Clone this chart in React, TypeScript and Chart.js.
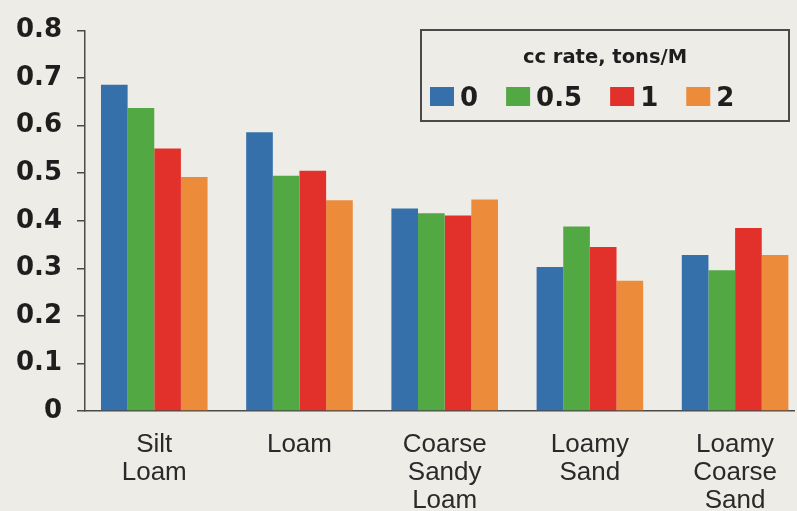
import React, { useEffect, useRef } from 'react';
import { Chart, registerables } from 'chart.js';

Chart.register(...registerables);

// ---- data ----
const categories: string[][] = [
  ['Silt', 'Loam'],
  ['Loam'],
  ['Coarse', 'Sandy', 'Loam'],
  ['Loamy', 'Sand'],
  ['Loamy', 'Coarse', 'Sand'],
];
const seriesNames = ['0', '0.5', '1', '2'];
const rate0 = [0.686, 0.586, 0.426, 0.303, 0.328];
const rate05 = [0.637, 0.495, 0.416, 0.388, 0.296];
const rate1 = [0.552, 0.505, 0.411, 0.345, 0.385];
const rate2 = [0.492, 0.443, 0.445, 0.274, 0.328];
const yTickLabels = ['0', '0.1', '0.2', '0.3', '0.4', '0.5', '0.6', '0.7', '0.8'];
const legendTitle = 'cc rate, tons/M';

const seriesValues = [rate0, rate05, rate1, rate2];
const colors = ['#3570ab', '#52a944', '#e2302a', '#ec8b3a'];
const BG = '#eeece7';

const legendBoxPlugin = {
  id: 'legendBox',
  afterDraw(chart: any) {
    const ctx = chart.ctx as CanvasRenderingContext2D;
    ctx.save();
    const bx = 421, by = 30, bw = 368, bh = 91;
    ctx.strokeStyle = '#4a4a4a';
    ctx.lineWidth = 2;
    ctx.strokeRect(bx, by, bw, bh);
    ctx.fillStyle = '#1e1e1e';
    ctx.font = 'bold 19.5px "DejaVu Sans"';
    ctx.textAlign = 'center';
    ctx.textBaseline = 'alphabetic';
    ctx.fillText(legendTitle, bx + bw / 2, 63);
    ctx.font = 'bold 26px "DejaVu Sans"';
    ctx.textAlign = 'left';
    let x = 430;
    chart.data.datasets.forEach((ds: any) => {
      ctx.fillStyle = ds.backgroundColor;
      ctx.fillRect(x, 87, 24, 19);
      ctx.fillStyle = '#1e1e1e';
      const tx = x + 30;
      ctx.fillText(ds.label, tx, 106);
      const w = ctx.measureText(ds.label).width;
      x = tx + w + 28;
    });
    ctx.restore();
  },
};

export default function App() {
  const ref = useRef<HTMLCanvasElement | null>(null);
  useEffect(() => {
    if (!ref.current) return;
    const chart = new Chart(ref.current, {
      type: 'bar',
      data: {
        datasets: seriesNames.map((name, si) => ({
          label: name,
          data: seriesValues[si].map((v, i) => ({ x: i, y: v })),
          backgroundColor: colors[si],
          borderWidth: 0,
          categoryPercentage: 0.734,
          barPercentage: 1,
        })),
      },
      options: {
        responsive: false,
        animation: false,
        devicePixelRatio: 1,
        layout: { padding: { top: 25, left: 0, right: 0, bottom: 0 } },
        plugins: {
          legend: { display: false },
          tooltip: { enabled: false },
          title: { display: false },
        },
        scales: {
          x: {
            type: 'linear',
            offset: false,
            min: -0.477,
            max: 4.408,
            afterBuildTicks: (scale: any) => {
              scale.ticks = categories.map((_, i) => ({ value: i }));
            },
            afterFit: (scale: any) => {
              scale.height = 100;
            },
            grid: { display: false, drawTicks: false },
            border: { display: true, color: '#4a4a4a', width: 1.5 },
            ticks: {
              autoSkip: false,
              maxRotation: 0,
              padding: 20,
              color: '#2a2a2a',
              font: { family: '"Liberation Sans", Arial, sans-serif', size: 26, lineHeight: 1.08 },
              callback: (v: any) => categories[Math.round(Number(v))] ?? '',
            },
          },
          y: {
            min: 0,
            max: 0.8,
            afterFit: (scale: any) => {
              scale.width = 85;
            },
            grid: { display: true, drawOnChartArea: false, drawTicks: true, tickLength: 8, color: '#4a4a4a', lineWidth: 1.5 },
            border: { display: true, color: '#4a4a4a', width: 1.5 },
            ticks: {
              stepSize: 0.1,
              padding: 15,
              color: '#1e1e1e',
              font: { family: '"DejaVu Sans"', size: 26, weight: 'bold' },
              callback: (_v: any, i: number) => yTickLabels[i],
            },
          },
        },
      },
      plugins: [legendBoxPlugin],
    } as any);
    return () => chart.destroy();
  }, []);
  return (
    <div style={{ position: 'absolute', left: 0, top: 0, width: 797, height: 511, background: BG }}>
      <canvas ref={ref} width={797} height={511} style={{ display: 'block' }} />
    </div>
  );
}
